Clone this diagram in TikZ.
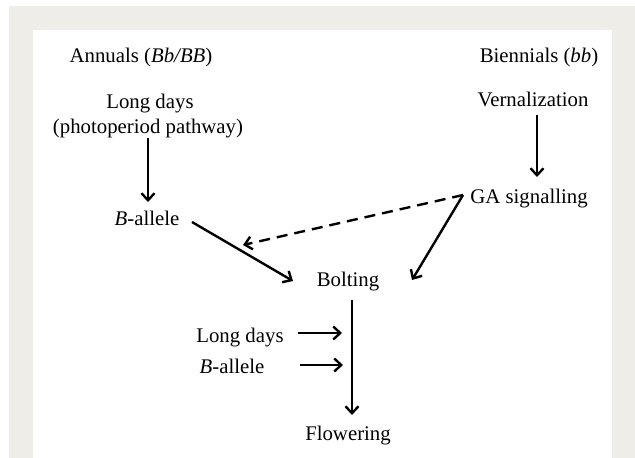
\documentclass[tikz,border=0pt]{standalone}
\usepackage{fontspec}
\setmainfont{Liberation Serif}
\usetikzlibrary{arrows.meta}
\definecolor{framegray}{HTML}{EEEDE7}
\begin{document}
\begin{tikzpicture}[x=1pt,y=-1pt,
  lbl/.style={anchor=base,inner sep=0pt,font=\fontsize{20.8}{25}\selectfont},
  arr/.style={line width=2.4pt,-{Straight Barb[length=7pt,width=13pt]}},
  darr/.style={arr,dash pattern=on 11pt off 7pt}]
\useasboundingbox (0,0) rectangle (635,458);
\fill[white] (0,0) rectangle (635,458);
\fill[framegray] (9,6) rectangle (635,458);
\fill[white] (33,30) rectangle (612,458);
\node[lbl] (ann) at (141,62) {Annuals (\textit{Bb/BB})};
\node[lbl] (bien) at (539,62) {Biennials (\textit{bb})};
\node[lbl] (ld1) at (150,108) {Long days};
\node[lbl] (photo) at (148,133) {(photoperiod pathway)};
\node[lbl] (vern) at (533,106) {Vernalization};
\node[lbl] (ga) at (529,203) {GA signalling};
\node[lbl] (ba1) at (147,225) {\textit{B}-allele};
\node[lbl] (bolt) at (348,286) {Bolting};
\node[lbl] (ld2) at (240,342) {Long days};
\node[lbl] (ba2) at (232,373) {\textit{B}-allele};
\node[lbl] (flow) at (348,440) {Flowering};
\coordinate (j1) at (342,333);
\coordinate (j2) at (343,365);
\draw[arr] ([shift={(0,5)}]photo.base) -- ([shift={(1,-23)}]ba1.base);
\draw[arr] ([shift={(4,9)}]vern.base) -- ([shift={(8,-26)}]ga.base);
\draw[arr] ([shift={(45,-3)}]ba1.base) -- ([shift={(-55,-5)}]bolt.base);
\draw[darr] ([shift={(-66,-8)}]ga.base) -- ([shift={(96,20)}]ba1.base);
\draw[arr] ([shift={(-66,-8)}]ga.base) -- ([shift={(64,-6)}]bolt.base);
\draw[arr] ([shift={(4,14)}]bolt.base) -- ([shift={(4,-25)}]flow.base);
\draw[arr] ([shift={(58,-9)}]ld2.base) -- (j1);
\draw[arr] ([shift={(68,-8)}]ba2.base) -- (j2);
\end{tikzpicture}
\end{document}
